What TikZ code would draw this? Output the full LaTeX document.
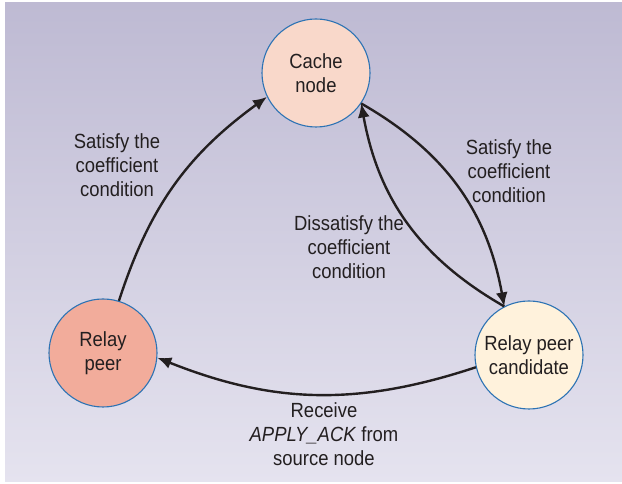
\documentclass[tikz,border=0pt]{standalone}
\usepackage{fontspec}
\setmainfont{Liberation Sans}[FakeStretch=0.9]
\usetikzlibrary{arrows.meta}
\definecolor{bgtop}{RGB}{190,186,211}
\definecolor{bgbot}{RGB}{229,227,239}
\definecolor{rim}{RGB}{45,115,180}
\definecolor{cachefill}{RGB}{249,216,202}
\definecolor{candfill}{RGB}{255,242,220}
\definecolor{relayfill}{RGB}{242,172,155}
\definecolor{ink}{RGB}{35,31,32}
\tikzset{
  state/.style={circle,draw=rim,line width=1.1pt,minimum size=108pt,inner sep=0pt,
    align=center,text=ink,font=\fontsize{20.5}{24}\selectfont},
  lbl/.style={align=center,text=ink,font=\fontsize{20.5}{24}\selectfont},
  link/.style={draw=ink,line width=2.4pt,-{Latex[length=14pt,width=12pt]}}
}
\begin{document}
\begin{tikzpicture}[x=1pt,y=1pt]
\useasboundingbox (0,0) rectangle (622,484);
\shade[top color=bgtop,bottom color=bgbot] (5,2) rectangle (622,481);
\node[state,fill=cachefill] (cache) at (316,411) {Cache\\node};
\node[state,fill=candfill] (cand) at (529,129) {Relay peer\\candidate};
\node[state,fill=relayfill] (relay) at (103,131) {Relay\\peer};
\draw[link] (relay.73) to[bend left=18] (cache.206);
\draw[link] (cache.-34) to[bend left=25] (cand.117);
\draw[link] (cand.117) to[bend left=25] (cache.-34);
\draw[link] (cand.193) to[bend left=20] (relay.-5);
\node[lbl] (satleft) at (117,319) {Satisfy the\\coefficient\\condition};
\node[lbl] (satright) at (509,313) {Satisfy the\\coefficient\\condition};
\node[lbl] (dissat) at (349,237) {Dissatisfy the\\coefficient\\condition};
\node[lbl] (recv) at (324,50) {Receive\\\textit{APPLY\_ACK} from\\source node};
\end{tikzpicture}
\end{document}
